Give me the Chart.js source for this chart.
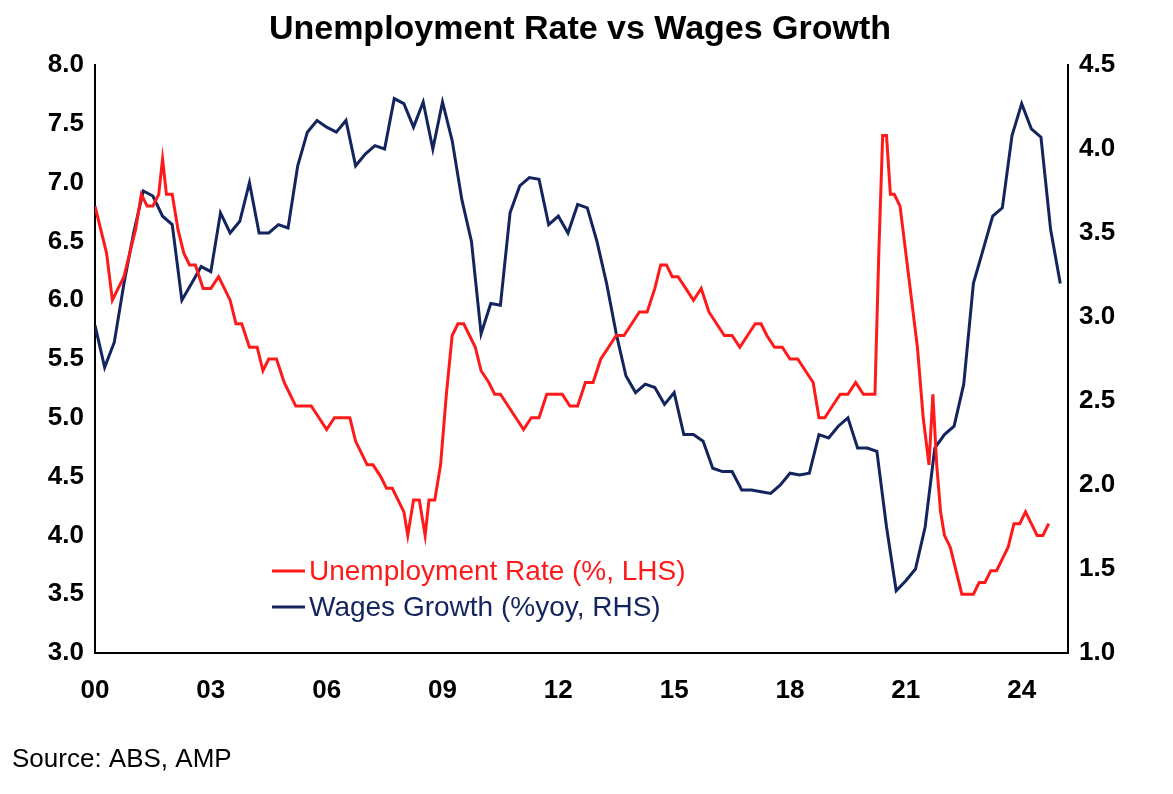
<!DOCTYPE html>
<html><head><meta charset="utf-8">
<script src="https://cdn.jsdelivr.net/npm/chart.js@4"></script>
<style>html,body{margin:0;background:#fff}#wrap{width:1173px;height:794px}</style>
</head><body><div id="wrap"><canvas id="c"></canvas></div>
<script>
// Unemployment rate (%), decimal year / value
const unempYears = [2000.0,2000.15,2000.3,2000.45,2000.6,2000.75,2000.9,2001.05,2001.2,2001.35,2001.5,2001.65,2001.75,2001.85,2002.0,2002.15,2002.3,2002.45,2002.6,2002.8,2003.0,2003.2,2003.35,2003.5,2003.65,2003.8,2004.0,2004.2,2004.35,2004.5,2004.7,2004.9,2005.05,2005.2,2005.4,2005.6,2005.8,2006.0,2006.2,2006.4,2006.6,2006.75,2006.9,2007.05,2007.2,2007.4,2007.55,2007.7,2007.85,2008.0,2008.1,2008.25,2008.4,2008.55,2008.65,2008.8,2008.95,2009.1,2009.25,2009.4,2009.55,2009.7,2009.85,2010.0,2010.2,2010.35,2010.5,2010.7,2010.9,2011.1,2011.3,2011.5,2011.7,2011.9,2012.1,2012.3,2012.5,2012.7,2012.9,2013.1,2013.3,2013.5,2013.7,2013.9,2014.1,2014.3,2014.5,2014.65,2014.8,2014.95,2015.1,2015.3,2015.5,2015.7,2015.9,2016.1,2016.3,2016.5,2016.7,2016.9,2017.1,2017.25,2017.4,2017.6,2017.8,2018.0,2018.2,2018.4,2018.6,2018.75,2018.9,2019.1,2019.3,2019.5,2019.7,2019.9,2020.05,2020.2,2020.3,2020.4,2020.5,2020.6,2020.7,2020.85,2021.0,2021.15,2021.3,2021.45,2021.6,2021.7,2021.8,2021.9,2022.0,2022.15,2022.3,2022.45,2022.6,2022.75,2022.9,2023.05,2023.2,2023.35,2023.5,2023.65,2023.8,2023.95,2024.1,2024.25,2024.4,2024.55,2024.7,2024.85,2025.0,2025.1];
const unempRate = [6.8,6.6,6.4,6.0,6.1,6.2,6.4,6.6,6.9,6.8,6.8,6.9,7.2,6.9,6.9,6.6,6.4,6.3,6.3,6.1,6.1,6.2,6.1,6.0,5.8,5.8,5.6,5.6,5.4,5.5,5.5,5.3,5.2,5.1,5.1,5.1,5.0,4.9,5.0,5.0,5.0,4.8,4.7,4.6,4.6,4.5,4.4,4.4,4.3,4.2,4.0,4.3,4.3,4.0,4.3,4.3,4.6,5.2,5.7,5.8,5.8,5.7,5.6,5.4,5.3,5.2,5.2,5.1,5.0,4.9,5.0,5.0,5.2,5.2,5.2,5.1,5.1,5.3,5.3,5.5,5.6,5.7,5.7,5.8,5.9,5.9,6.1,6.3,6.3,6.2,6.2,6.1,6.0,6.1,5.9,5.8,5.7,5.7,5.6,5.7,5.8,5.8,5.7,5.6,5.6,5.5,5.5,5.4,5.3,5.0,5.0,5.1,5.2,5.2,5.3,5.2,5.2,5.2,6.4,7.4,7.4,6.9,6.9,6.8,6.4,6.0,5.6,5.0,4.6,5.2,4.6,4.2,4.0,3.9,3.7,3.5,3.5,3.5,3.6,3.6,3.7,3.7,3.8,3.9,4.1,4.1,4.2,4.1,4.0,4.0,4.1];
// Wages growth (%yoy), quarterly
const wageYears = [];
for (let i = 0; i <= 100; i++) wageYears.push(2000 + i * 0.25);
const wageGrowth = [2.95,2.7,2.85,3.2,3.5,3.75,3.72,3.6,3.55,3.1,3.2,3.3,3.27,3.62,3.5,3.57,3.8,3.5,3.5,3.55,3.53,3.9,4.1,4.17,4.13,4.1,4.17,3.9,3.97,4.02,4.0,4.3,4.27,4.13,4.28,4.0,4.28,4.05,3.7,3.45,2.9,3.08,3.07,3.62,3.78,3.83,3.82,3.55,3.6,3.5,3.67,3.65,3.45,3.2,2.9,2.65,2.55,2.6,2.58,2.48,2.55,2.3,2.3,2.26,2.1,2.08,2.08,1.97,1.97,1.96,1.95,2.0,2.07,2.06,2.07,2.3,2.28,2.35,2.4,2.22,2.22,2.2,1.75,1.37,1.43,1.5,1.75,2.22,2.3,2.35,2.6,3.2,3.4,3.6,3.65,4.08,4.27,4.12,4.07,3.52,3.2];

const RED = '#ff1a1a', NAVY = '#13245e';
const tickFont = { family: 'Liberation Sans, Arial', size: 26, weight: 'bold' };

const decor = {
  id: 'decor',
  afterDraw(chart) {
    const ctx = chart.ctx;
    ctx.save();
    ctx.fillStyle = '#000';
    ctx.font = 'bold 34px "Liberation Sans", Arial';
    ctx.textAlign = 'center'; ctx.textBaseline = 'middle';
    ctx.fillText('Unemployment Rate vs Wages Growth', 580, 30);
    ctx.font = '26px "Liberation Sans", Arial';
    ctx.textAlign = 'left';
    ctx.fillText('Source: ABS, AMP', 12, 760);
    const items = [['Unemployment Rate (%, LHS)', RED, 571], ['Wages Growth (%yoy, RHS)', NAVY, 607]];
    ctx.font = '28px "Liberation Sans", Arial';
    items.forEach(([t, col, y]) => {
      ctx.strokeStyle = col; ctx.lineWidth = 3;
      ctx.beginPath(); ctx.moveTo(272, y); ctx.lineTo(305, y); ctx.stroke();
      ctx.fillStyle = col; ctx.fillText(t, 309, y + 1);
    });
    ctx.restore();
  }
};

new Chart(document.getElementById('c'), {
  type: 'line',
  data: {
    datasets: [
      { data: unempYears.map((x, i) => ({ x, y: unempRate[i] })), borderColor: RED, borderWidth: 3, pointRadius: 0, yAxisID: 'y', tension: 0 },
      { data: wageYears.map((x, i) => ({ x, y: wageGrowth[i] })), borderColor: NAVY, borderWidth: 3, pointRadius: 0, yAxisID: 'y1', tension: 0 }
    ]
  },
  options: {
    responsive: true, maintainAspectRatio: false, animation: false,
    layout: { padding: { top: 65, left: 0, right: 0, bottom: 0 } },
    plugins: { legend: { display: false }, tooltip: { enabled: false } },
    scales: {
      x: {
        type: 'linear', min: 2000, max: 2025.2,
        afterBuildTicks: s => { s.ticks = [0,3,6,9,12,15,18,21,24].map(v => ({ value: 2000 + v })); },
        ticks: { color: '#000', font: tickFont, autoSkip: false, maxRotation: 0, padding: 14,
          callback: v => String(Math.round(v) - 2000).padStart(2, '0') },
        grid: { display: false },
        border: { color: '#000', width: 2 },
        afterFit: s => { s.height = 141; }
      },
      y: {
        position: 'left', min: 3, max: 8,
        ticks: { stepSize: 0.5, color: '#000', font: tickFont, callback: v => v.toFixed(1) },
        grid: { display: false }, border: { color: '#000', width: 2 },
        afterFit: s => { s.width = 95; }
      },
      y1: {
        position: 'right', min: 1, max: 4.5,
        ticks: { stepSize: 0.5, color: '#000', font: tickFont, callback: v => v.toFixed(1) },
        grid: { display: false }, border: { color: '#000', width: 2 },
        afterFit: s => { s.width = 105; }
      }
    }
  },
  plugins: [decor]
});
</script>
</body></html>
